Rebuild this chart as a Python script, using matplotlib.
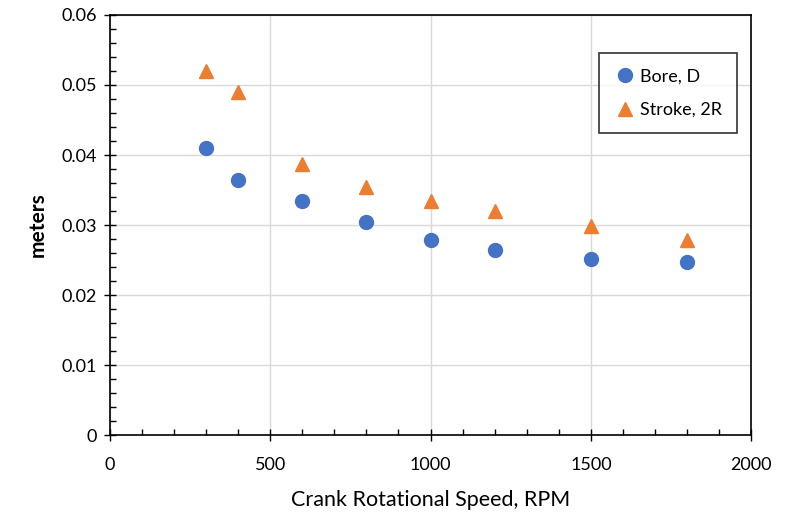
import numpy as np
import matplotlib
matplotlib.use("Agg")
import matplotlib.pyplot as plt
from matplotlib.ticker import MultipleLocator

# data
rpm = [300, 400, 600, 800, 1000, 1200, 1500, 1800]
bore = [0.0410, 0.0364, 0.0334, 0.0304, 0.0279, 0.0264, 0.0252, 0.0247]
stroke = [0.0520, 0.0490, 0.0387, 0.0354, 0.0334, 0.0320, 0.0299, 0.0279]

plt.rcParams['font.family'] = ['Lato', 'DejaVu Sans']

fig = plt.figure(figsize=(7.9, 5.15), dpi=100)
ax = fig.add_axes([0.139, 0.155, 0.812, 0.816])

ax.plot(rpm, bore, 'o', color='#4472C4', markersize=10, label='Bore, D', zorder=3)
ax.plot(rpm, stroke, '^', color='#ED7D31', markersize=10, label='Stroke, 2R', zorder=3)

ax.set_xlim(0, 2000)
ax.set_ylim(0, 0.06)
ax.xaxis.set_major_locator(MultipleLocator(500))
ax.xaxis.set_minor_locator(MultipleLocator(100))
ax.yaxis.set_minor_locator(MultipleLocator(0.002))
ax.set_yticks(np.arange(0, 0.061, 0.01))
ax.set_yticklabels(['0', '0.01', '0.02', '0.03', '0.04', '0.05', '0.06'])

ax.grid(True, which='major', color='#d9d9d9', linewidth=1)
ax.set_axisbelow(True)
ax.tick_params(which='major', direction='inout', length=8, width=1, labelsize=13, colors='black')
ax.tick_params(which='minor', direction='in', length=4, width=1)
ax.tick_params(axis='x', pad=12)
ax.tick_params(axis='y', pad=5)
for s in ax.spines.values():
    s.set_color('black')
    s.set_linewidth(1.2)

ax.set_xlabel('Crank Rotational Speed, RPM', fontsize=15.5, labelpad=12)
ax.set_ylabel('meters', fontsize=15, fontweight='bold', labelpad=10)

leg = ax.legend(loc='upper right', bbox_to_anchor=(0.992, 0.93), fontsize=13,
                frameon=True, fancybox=False, edgecolor='black', borderpad=0.85,
                labelspacing=0.95, handletextpad=0.2, handlelength=1.2)
leg.get_frame().set_linewidth(1.2)

fig.savefig('out.png', dpi=100)
